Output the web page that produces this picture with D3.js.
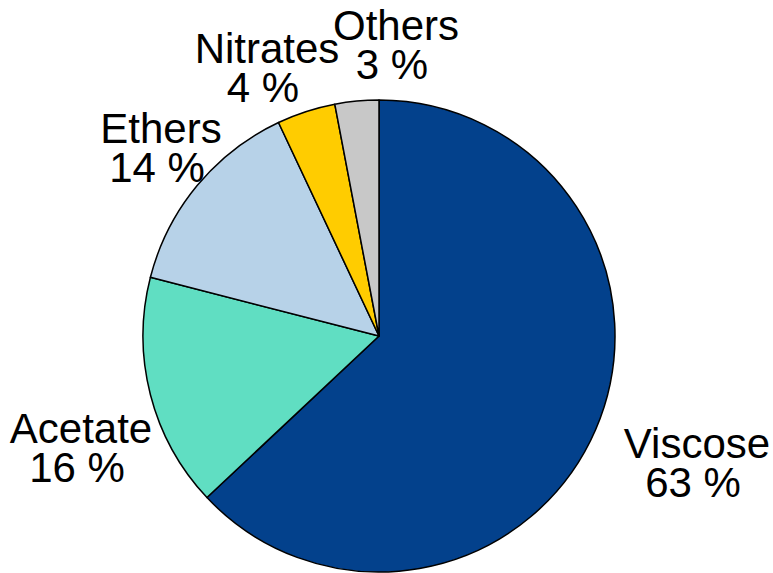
<!DOCTYPE html>
<html>
<head>
<meta charset="utf-8">
<style>
  html, body { margin: 0; padding: 0; background: #ffffff; }
  svg { display: block; }
  text { font-family: "Liberation Sans", Arial, sans-serif; font-size: 42px; fill: #000; }
</style>
<script src="https://cdn.jsdelivr.net/npm/d3@7"></script>
</head>
<body>
<svg id="chart" width="773" height="573"></svg>
<script>
// Cellulose derivative shares (percent)
const categories = ["Viscose", "Acetate", "Ethers", "Nitrates", "Others"];
const shares = [63, 16, 14, 4, 3];
const colors = ["#03418c", "#60dec2", "#b7d2e8", "#ffcc00", "#c8c8c8"];

// Label anchors relative to the pie centre (horizontal centre, first baseline)
const labelOffsets = {
  Viscose:  [318, 122],
  Acetate:  [-298, 107],
  Ethers:   [-218, -193],
  Nitrates: [-112, -273],
  Others:   [17, -296]
};

const width = 773, height = 573;
const cx = 379, cy = 336, radius = 236;
const lineGap = 39;

const svg = d3.select("#chart");
const g = svg.append("g").attr("transform", `translate(${cx},${cy})`);

const data = categories.map((c, i) => ({ name: c, value: shares[i], color: colors[i] }));

const pie = d3.pie().value(d => d.value).sort(null).startAngle(0).endAngle(2 * Math.PI);
const arc = d3.arc().innerRadius(0).outerRadius(radius);

g.selectAll("path.slice")
  .data(pie(data))
  .join("path")
  .attr("class", "slice")
  .attr("d", arc)
  .attr("fill", d => d.data.color)
  .attr("stroke", "#000")
  .attr("stroke-width", 1.5)
  .attr("stroke-linejoin", "round");

const labels = g.selectAll("text.label")
  .data(data)
  .join("text")
  .attr("class", "label")
  .attr("text-anchor", "middle");

labels.append("tspan")
  .attr("x", d => labelOffsets[d.name][0])
  .attr("y", d => labelOffsets[d.name][1])
  .text(d => d.name);

labels.append("tspan")
  .attr("x", d => labelOffsets[d.name][0] - 4)
  .attr("y", d => labelOffsets[d.name][1] + lineGap)
  .text(d => `${d.value} %`);
</script>
</body>
</html>
